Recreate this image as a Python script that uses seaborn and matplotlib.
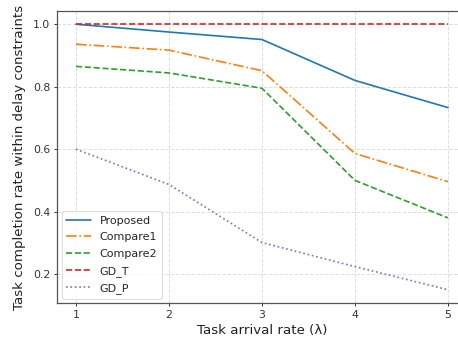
import numpy as np
import matplotlib
matplotlib.use("Agg")
import matplotlib.pyplot as plt
import seaborn as sns
import pandas as pd

# Data
arrival_rate = [1, 2, 3, 4, 5]
proposed = [1.0, 0.975, 0.951, 0.82, 0.733]
compare1 = [0.936, 0.917, 0.851, 0.586, 0.496]
compare2 = [0.865, 0.844, 0.795, 0.50, 0.38]
gd_t = [1.0, 1.0, 1.0, 1.0, 1.0]
gd_p = [0.60, 0.487, 0.301, 0.224, 0.15]

series_names = ['Proposed', 'Compare1', 'Compare2', 'GD_T', 'GD_P']
series_values = [proposed, compare1, compare2, gd_t, gd_p]
line_styles = ['-', '-.', '--', '--', ':']
colors = sns.color_palette('tab10', 5)

sns.set_style('ticks')
plt.rcParams['font.family'] = ['DejaVu Sans']

fig = plt.figure(figsize=(4.58, 3.42), dpi=100)
ax = fig.add_axes([0.1253, 0.114, 0.8934, 0.854])

for name, vals, ls, c in zip(series_names, series_values, line_styles, colors):
    df = pd.DataFrame({'x': arrival_rate, 'y': vals})
    sns.lineplot(data=df, x='x', y='y', ax=ax, label=name, color=c,
                 linestyle=ls, linewidth=1.2)

ax.set_xticks(arrival_rate)
ax.set_yticks([0.2, 0.4, 0.6, 0.8, 1.0])
ax.set_xlim(0.8, 5.2)
ax.set_ylim(0.1075, 1.0425)
ax.grid(True, linestyle='--', color='#dddddd', linewidth=0.7)
ax.set_xlabel('Task arrival rate (λ)', fontsize=9.6, color='#222222', labelpad=3)
ax.set_ylabel('Task completion rate within delay constraints', fontsize=9.6,
              color='#222222', labelpad=5)
ax.tick_params(labelsize=7.8, colors='#333333', length=2.5, width=0.7, pad=2.5)
for s in ax.spines.values():
    s.set_color('#555555')
    s.set_linewidth(0.9)

leg = ax.legend(loc='lower left', fontsize=8, frameon=True,
                borderaxespad=0.4, handlelength=2.2, labelspacing=0.6)
leg.get_frame().set_edgecolor('#cccccc')
leg.get_frame().set_linewidth(0.6)

fig.savefig('out.png', dpi=100)
